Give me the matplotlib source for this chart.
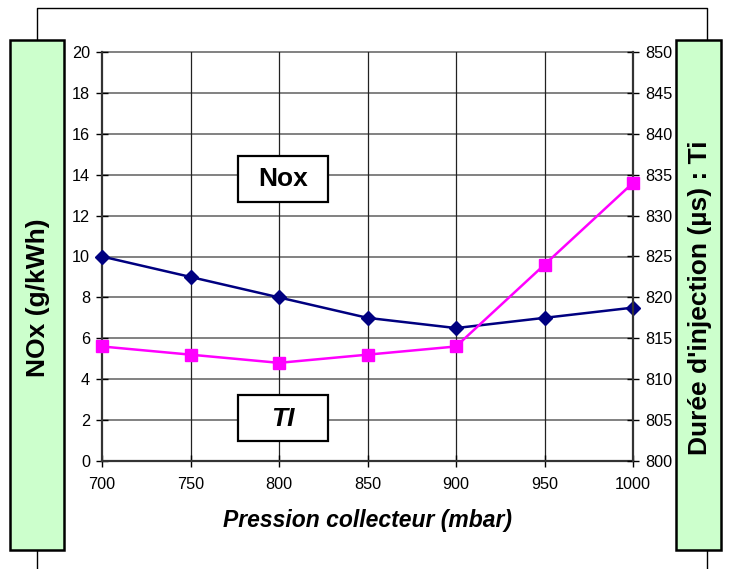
import matplotlib
matplotlib.use("Agg")
import matplotlib.pyplot as plt
from matplotlib.patches import Rectangle

plt.rcParams['font.family'] = ['Liberation Sans', 'DejaVu Sans']

pression = [700, 750, 800, 850, 900, 950, 1000]
nox = [10, 9, 8, 7, 6.5, 7, 7.5]
ti = [814, 813, 812, 813, 814, 824, 834]

nox_ticks = list(range(0, 21, 2))
ti_ticks = list(range(800, 851, 5))

fig = plt.figure(figsize=(7.29, 5.69), dpi=100)
W, H = 729, 569

def fx(px):
    return px / W

def fy(py):
    return 1 - py / H

# outer chart frame (runs off the bottom edge)
fig.add_artist(plt.Line2D([fx(37), fx(37), fx(707), fx(707)],
                          [fy(575), fy(8), fy(8), fy(575)],
                          color='black', lw=1, transform=fig.transFigure))

ax = fig.add_axes([fx(102), fy(461), fx(633) - fx(102), fy(52) - fy(461)])
ax.set_xlim(700, 1000)
ax.set_ylim(0, 20)
ax.set_xticks(pression)
ax.set_yticks(nox_ticks)
for y in nox_ticks[1:-1]:
    ax.axhline(y, color='#777777', lw=1.3, zorder=1)
ax.axhline(20, color='#777777', lw=1.3, zorder=1, clip_on=False)
for x in pression[1:-1]:
    ax.axvline(x, color='#222222', lw=0.9, zorder=1)
ax.spines['top'].set_visible(False)
ax.spines['right'].set_visible(False)
for s in ['left', 'bottom']:
    ax.spines[s].set_linewidth(1.6)
    ax.spines[s].set_color('#333333')
ax.tick_params(axis='both', direction='inout', length=9, width=1, labelsize=11.7, colors='black')
ax.tick_params(axis='x', pad=7)
ax.tick_params(axis='y', pad=4)

ax.plot(pression, nox, color='#000080', lw=1.8, marker='D', markersize=7.5,
        zorder=4, clip_on=False)

ax2 = ax.twinx()
ax2.set_ylim(800, 850)
ax2.set_yticks(ti_ticks)
for s in ['top', 'left', 'bottom']:
    ax2.spines[s].set_visible(False)
ax2.spines['right'].set_linewidth(1.6)
ax2.spines['right'].set_color('#333333')
ax2.tick_params(axis='y', direction='inout', length=9, width=1, labelsize=11.7, pad=4)
ax2.plot(pression, ti, color='#FF00FF', lw=1.8, marker='s', markersize=9,
         zorder=5, clip_on=False)

ax.set_xlabel('Pression collecteur (mbar)', fontsize=16.5, fontweight='bold',
              fontstyle='italic', labelpad=12)

# green title boxes on each side
for (x0, x1, label) in [(10, 64, 'NOx (g/kWh)'), (676, 721, "Durée d'injection (µs) : Ti")]:
    fig.add_artist(Rectangle((fx(x0), fy(550)), fx(x1) - fx(x0), fy(40) - fy(550),
                             facecolor='#CCFFCC', edgecolor='black', lw=1.8,
                             transform=fig.transFigure, zorder=3))
    fig.text(fx((x0 + x1) / 2 + 1), fy(298), label, rotation=90, ha='center', va='center',
             fontsize=19, fontweight='bold', zorder=4)

# series labels
for (cy, label, style) in [(178.5, 'Nox', 'normal'), (418, 'TI', 'italic')]:
    fig.add_artist(Rectangle((fx(238), fy(cy + 23)), fx(328) - fx(238), fy(cy - 23) - fy(cy + 23),
                             facecolor='white', edgecolor='black', lw=1.6,
                             transform=fig.transFigure, zorder=5))
    fig.text(fx(283), fy(cy + 1), label, ha='center', va='center', fontsize=19,
             fontweight='bold', fontstyle=style, zorder=6)

fig.savefig('out.png', dpi=100)
